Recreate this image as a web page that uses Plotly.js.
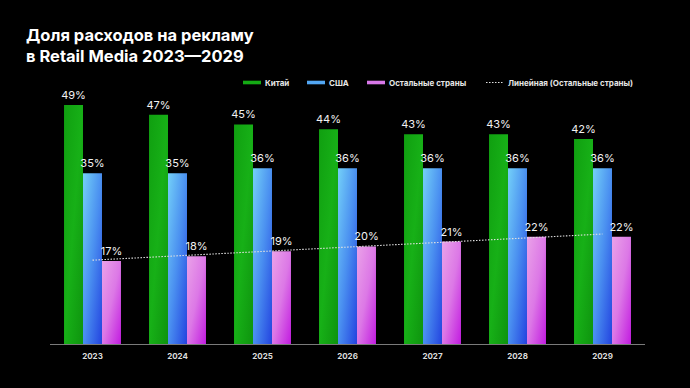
<!DOCTYPE html>
<html>
<head>
<meta charset="utf-8">
<script src="https://cdn.plot.ly/plotly-3.0.1.min.js"></script>
<style>
  html, body { margin: 0; padding: 0; background: #000; }
  #chart { width: 690px; height: 388px; }
</style>
</head>
<body>
<div id="chart"></div>
<script>
// ---- data ----
const years = ['2023', '2024', '2025', '2026', '2027', '2028', '2029'];
const china = [49, 47, 45, 44, 43, 43, 42];
const usa = [35, 35, 36, 36, 36, 36, 36];
const others = [17, 18, 19, 20, 21, 22, 22];
const seriesNames = ['Китай', 'США', 'Остальные страны', 'Линейная (Остальные страны)'];
const titleText = 'Доля расходов на рекламу<br>в Retail Media 2023—2029';

// linear trendline (least squares) of "others", as in the source chart
function linearTrend(vals) {
  const n = vals.length;
  const xs = vals.map((_, i) => i);
  const mx = xs.reduce((a, b) => a + b, 0) / n;
  const my = vals.reduce((a, b) => a + b, 0) / n;
  let sxy = 0, sxx = 0;
  xs.forEach((x, i) => { sxy += (x - mx) * (vals[i] - my); sxx += (x - mx) * (x - mx); });
  const k = sxy / sxx, b = my - k * mx;
  return xs.map(x => b + k * x);
}
const trend = linearTrend(others);

const FONT = 'Inter, "Noto Sans", sans-serif';
const pct = v => v + '%';
const colors = ['#14aa14', '#52a6f2', '#d878e8', '#e0e0e0'];

// plot area in pixels (for placing the legend in paper coordinates)
const M = { l: 50, r: 45, t: 100, b: 44 };
const PW = 690 - M.l - M.r, PH = 388 - M.t - M.b;
const px = x => (x - M.l) / PW;
const py = y => (388 - M.b - y) / PH;

const barCommon = {
  type: 'bar',
  textposition: 'outside',
  constraintext: 'none',
  cliponaxis: false,
  textfont: { family: FONT, size: 11, color: '#f2f2f2' },
  hoverinfo: 'skip',
  showlegend: false
};

const data = [
  Object.assign({}, barCommon, { name: seriesNames[0], x: years, y: china, text: china.map(pct), marker: { color: colors[0], line: { width: 0 } } }),
  Object.assign({}, barCommon, { name: seriesNames[1], x: years, y: usa, text: usa.map(pct), marker: { color: colors[1], line: { width: 0 } } }),
  Object.assign({}, barCommon, { name: seriesNames[2], x: years, y: others, text: others.map(pct), marker: { color: colors[2], line: { width: 0 } } }),
  { type: 'scatter', mode: 'lines', name: seriesNames[3], x: years, y: trend, showlegend: false,
    line: { color: colors[3], width: 1.1, dash: '1.5px,1.5px' }, hoverinfo: 'skip' }
];

// custom legend: thin swatches + labels (as in the reference)
const legendItems = [
  { x0: 243, x1: 261, kind: 'rect' },
  { x0: 307, x1: 325, kind: 'rect' },
  { x0: 367, x1: 385, kind: 'rect' },
  { x0: 486, x1: 504, kind: 'line' }
];
const LY = 82.5;
const shapes = [], annotations = [];
legendItems.forEach((it, i) => {
  if (it.kind === 'rect') {
    shapes.push({ type: 'rect', xref: 'paper', yref: 'paper',
      x0: px(it.x0), x1: px(it.x1), y0: py(LY + 1.8), y1: py(LY - 1.8),
      fillcolor: colors[i], line: { width: 0 } });
  } else {
    shapes.push({ type: 'line', xref: 'paper', yref: 'paper',
      x0: px(it.x0), x1: px(it.x1), y0: py(LY), y1: py(LY),
      line: { color: colors[i], width: 1, dash: '1.5px,1.5px' } });
  }
  annotations.push({ xref: 'paper', yref: 'paper', x: px(it.x1 + 2), y: py(LY),
    xanchor: 'left', yanchor: 'middle', showarrow: false, text: seriesNames[i],
    font: { family: FONT, size: 8, color: '#e6e6e6', weight: 700 } });
});

const layout = {
  width: 690, height: 388,
  paper_bgcolor: '#000', plot_bgcolor: '#000',
  margin: M,
  barmode: 'group',
  bargap: 0.33,
  bargroupgap: 0,
  title: {
    text: titleText,
    font: { family: FONT, size: 16.5, color: '#ffffff', weight: 700 },
    x: 26 / 690, xanchor: 'left', xref: 'container',
    y: 1 - 41 / 388, yanchor: 'top', yref: 'container'
  },
  xaxis: {
    type: 'category',
    range: [-0.5, 6.5],
    showgrid: false, zeroline: false,
    showline: true, linecolor: '#7a7a7a', linewidth: 1,
    ticks: '', ticklabelstandoff: 4,
    tickfont: { family: FONT, size: 8, color: '#dcdcdc', weight: 700 },
    fixedrange: true
  },
  yaxis: {
    range: [0, 50],
    visible: false, showgrid: false, zeroline: false, fixedrange: true
  },
  shapes: shapes,
  annotations: annotations,
  showlegend: false
};

const gradients = [
  ['#109f10', '#17b017', '#0e940e'],
  ['#74d0f8', '#4a8ff0', '#2343e0'],
  ['#eaa2e8', '#dc78e6', '#c21be0']
];

function applyGradients(gd) {
  const svg = gd.querySelector('svg.main-svg');
  if (!svg) return;
  const NS = 'http://www.w3.org/2000/svg';
  let defs = svg.querySelector('defs#bar-grads');
  if (!defs) {
    defs = document.createElementNS(NS, 'defs');
    defs.setAttribute('id', 'bar-grads');
    svg.insertBefore(defs, svg.firstChild);
    gradients.forEach((stops, i) => {
      const g = document.createElementNS(NS, 'linearGradient');
      g.setAttribute('id', 'bargrad' + i);
      g.setAttribute('x1', '0'); g.setAttribute('y1', '0');
      g.setAttribute('x2', '1'); g.setAttribute('y2', '1');
      stops.forEach((c, k) => {
        const s = document.createElementNS(NS, 'stop');
        s.setAttribute('offset', (k / (stops.length - 1)).toString());
        s.setAttribute('stop-color', c);
        g.appendChild(s);
      });
      defs.appendChild(g);
    });
  }
  const traces = gd.querySelectorAll('.barlayer .trace.bars');
  traces.forEach((t, i) => {
    t.querySelectorAll('.point path').forEach(p => { p.style.fill = 'url(#bargrad' + i + ')'; });
  });
}

const gd = document.getElementById('chart');
Plotly.newPlot(gd, data, layout, { displayModeBar: false, staticPlot: true }).then(() => applyGradients(gd));
</script>
</body>
</html>
